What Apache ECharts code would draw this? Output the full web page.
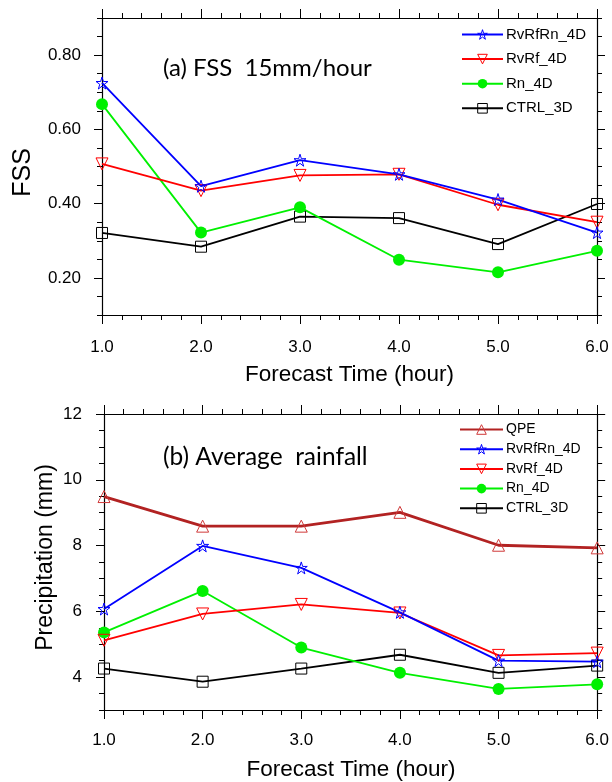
<!DOCTYPE html>
<html>
<head>
<meta charset="utf-8">
<script src="https://cdn.jsdelivr.net/npm/echarts@6/dist/echarts.min.js"></script>
<style>
html,body{margin:0;padding:0;background:#fff;}
#c{width:612px;height:782px;}
</style>
</head>
<body>
<div id="c"></div>
<script>
// ---- data ----
const hours = [1, 2, 3, 4, 5, 6];
const fssRvRfRn = [0.725, 0.447, 0.517, 0.479, 0.411, 0.322];
const fssRvRf   = [0.507, 0.435, 0.476, 0.479, 0.397, 0.350];
const fssRn     = [0.668, 0.322, 0.390, 0.249, 0.215, 0.273];
const fssCtrl   = [0.321, 0.284, 0.365, 0.361, 0.291, 0.399];
const rainQpe     = [9.49, 8.59, 8.59, 9.01, 8.01, 7.93];
const rainRvRfRn  = [6.07, 7.99, 7.32, 5.97, 4.50, 4.47];
const rainRvRf    = [5.12, 5.92, 6.21, 5.95, 4.66, 4.73];
const rainRn      = [5.36, 6.62, 4.90, 4.13, 3.64, 3.78];
const rainCtrl    = [4.26, 3.86, 4.26, 4.68, 4.13, 4.35];
const fssTicks  = [0.2, 0.4, 0.6, 0.8];
const rainTicks = [4, 6, 8, 10, 12];
const topNames = ['RvRfRn_4D', 'RvRf_4D', 'Rn_4D', 'CTRL_3D'];
const botNames = ['QPE', 'RvRfRn_4D', 'RvRf_4D', 'Rn_4D', 'CTRL_3D'];

const FONT = 'Liberation Sans';
const STAR = 'path://M50,2 L61,37 L98,37 L68,59 L79,95 L50,73 L21,95 L32,59 L2,37 L39,37 Z';
const pair = (xs, ys) => xs.map((x, i) => [x, ys[i]]);

const styles = {
  'QPE':       {color: '#b22222', sym: 'triangle', rot: 0, size: 12, lw: 2.8, edge: '#d03a3a', fill: false},
  'RvRfRn_4D': {color: '#0000ff', sym: STAR, rot: 0, size: 12, lw: 1.8, edge: '#0000ff', fill: false},
  'RvRf_4D':   {color: '#ff0000', sym: 'triangle', rot: 180, size: 12, lw: 1.8, edge: '#ff0000', fill: false},
  'Rn_4D':     {color: '#00f000', sym: 'circle', rot: 0, size: 12, lw: 1.8, edge: '#00f000', fill: true},
  'CTRL_3D':   {color: '#000000', sym: 'rect', rot: 0, size: 11, lw: 1.8, edge: '#000000', fill: false}
};
function itemStyleOf(name) {
  const s = styles[name];
  return {color: s.fill ? s.edge : 'rgba(255,255,255,0)', borderColor: s.edge, borderWidth: s.fill ? 0 : 1};
}

function mk(name, data, xi, yi) {
  const s = styles[name];
  return {
    name: name, type: 'line', xAxisIndex: xi, yAxisIndex: yi,
    data: data, symbol: s.sym, symbolSize: s.size, symbolRotate: s.rot,
    showAllSymbol: true, animation: false,
    lineStyle: {color: s.color, width: s.lw},
    itemStyle: itemStyleOf(name),
    emphasis: {disabled: true}
  };
}
function legendData(names) {
  return names.map(n => ({name: n, itemStyle: itemStyleOf(n)}));
}

function xAx(grid, pos, labels, margin) {
  return {
    type: 'value', gridIndex: grid, position: pos, min: 1, max: 6, interval: 1,
    axisLine: {show: true, onZero: false, lineStyle: {color: '#000', width: 1.2}},
    axisTick: {show: true, inside: false, length: 9, lineStyle: {color: '#000'}},
    minorTick: {show: true, splitNumber: 5, length: 5, lineStyle: {color: '#000'}},
    splitLine: {show: false},
    axisLabel: {show: labels, margin: margin, color: '#000', fontFamily: FONT, fontSize: 17,
      formatter: v => v.toFixed(1)}
  };
}
function yMinor(grid, pos, min, max, step) {
  return {
    type: 'value', gridIndex: grid, position: pos, min: min, max: max, interval: step,
    axisLine: {show: true, onZero: false, lineStyle: {color: '#000', width: 1.2}},
    axisTick: {show: true, inside: false, length: 5, lineStyle: {color: '#000'}},
    splitLine: {show: false}, axisLabel: {show: false}
  };
}
function yMajor(grid, pos, min, max, ticks, labels, margin, fmt) {
  return {
    type: 'value', gridIndex: grid, position: pos, min: min, max: max,
    axisLine: {show: false},
    axisTick: {show: true, inside: false, length: 8, customValues: ticks, lineStyle: {color: '#000'}},
    splitLine: {show: false},
    axisLabel: {show: labels, customValues: ticks, margin: margin, color: '#000', fontFamily: FONT, fontSize: 17, formatter: fmt}
  };
}

const option = {
  backgroundColor: '#fff',
  animation: false,
  grid: [
    {left: 102, top: 18, width: 495, height: 297},
    {left: 104, top: 414, width: 494, height: 296}
  ],
  xAxis: [
    xAx(0, 'bottom', true, 24),
    xAx(0, 'top', false, 8),
    xAx(1, 'bottom', true, 22),
    xAx(1, 'top', false, 8)
  ],
  yAxis: [
    yMinor(0, 'left', 0.1, 0.9, 0.05),
    yMajor(0, 'left', 0.1, 0.9, fssTicks, true, 21, v => v.toFixed(2)),
    yMinor(0, 'right', 0.1, 0.9, 0.05),
    yMajor(0, 'right', 0.1, 0.9, fssTicks, false, 8, v => v.toFixed(2)),
    yMinor(1, 'left', 3, 12, 0.5),
    yMajor(1, 'left', 3, 12, rainTicks, true, 22, v => String(v)),
    yMinor(1, 'right', 3, 12, 0.5),
    yMajor(1, 'right', 3, 12, rainTicks, false, 8, v => String(v))
  ],
  legend: [
    {data: legendData(topNames), orient: 'vertical', left: 461, top: 27, padding: 0,
     itemWidth: 41, itemHeight: 12, itemGap: 9.6, selectedMode: false,
     textStyle: {fontFamily: FONT, fontSize: 15, lineHeight: 15, color: '#000', padding: [0,0,0,-2]}},
    {data: legendData(botNames), orient: 'vertical', left: 459, top: 422.5, padding: 0,
     itemWidth: 43, itemHeight: 12, itemGap: 5.7, selectedMode: false,
     textStyle: {fontFamily: FONT, fontSize: 14, lineHeight: 14, color: '#000', padding: [0,0,0,-2]}}
  ],
  graphic: [
    {type: 'text', x: 163, y: 68, style: {text: '(a) FSS  15mm/hour', font: '24px Lato', fill: '#000', align: 'left', verticalAlign: 'middle'}},
    {type: 'text', x: 163, y: 457, style: {text: '(b) Average  rainfall', font: '24.5px Lato', fill: '#000', align: 'left', verticalAlign: 'middle'}},
    {type: 'text', x: 349.5, y: 375, style: {text: 'Forecast Time (hour)', font: '22.5px "Liberation Sans"', fill: '#000', align: 'center', verticalAlign: 'middle'}},
    {type: 'text', x: 351, y: 770, style: {text: 'Forecast Time (hour)', font: '22.5px "Liberation Sans"', fill: '#000', align: 'center', verticalAlign: 'middle'}},
    {type: 'text', x: 23, y: 172.5, rotation: Math.PI / 2, style: {text: 'FSS', font: '25px "Liberation Sans"', fill: '#000', align: 'center', verticalAlign: 'middle'}},
    {type: 'text', x: 46, y: 557.5, rotation: Math.PI / 2, style: {text: 'Precipitation (mm)', font: '23px "Liberation Sans"', fill: '#000', align: 'center', verticalAlign: 'middle'}}
  ],
  series: [
    mk('CTRL_3D', pair(hours, fssCtrl), 0, 0),
    mk('Rn_4D', pair(hours, fssRn), 0, 0),
    mk('RvRf_4D', pair(hours, fssRvRf), 0, 0),
    mk('RvRfRn_4D', pair(hours, fssRvRfRn), 0, 0),
    mk('QPE', pair(hours, rainQpe), 2, 4),
    mk('CTRL_3D', pair(hours, rainCtrl), 2, 4),
    mk('Rn_4D', pair(hours, rainRn), 2, 4),
    mk('RvRf_4D', pair(hours, rainRvRf), 2, 4),
    mk('RvRfRn_4D', pair(hours, rainRvRfRn), 2, 4)
  ]
};

const chart = echarts.init(document.getElementById('c'), null, {renderer: 'canvas'});
chart.setOption(option);
</script>
</body>
</html>
